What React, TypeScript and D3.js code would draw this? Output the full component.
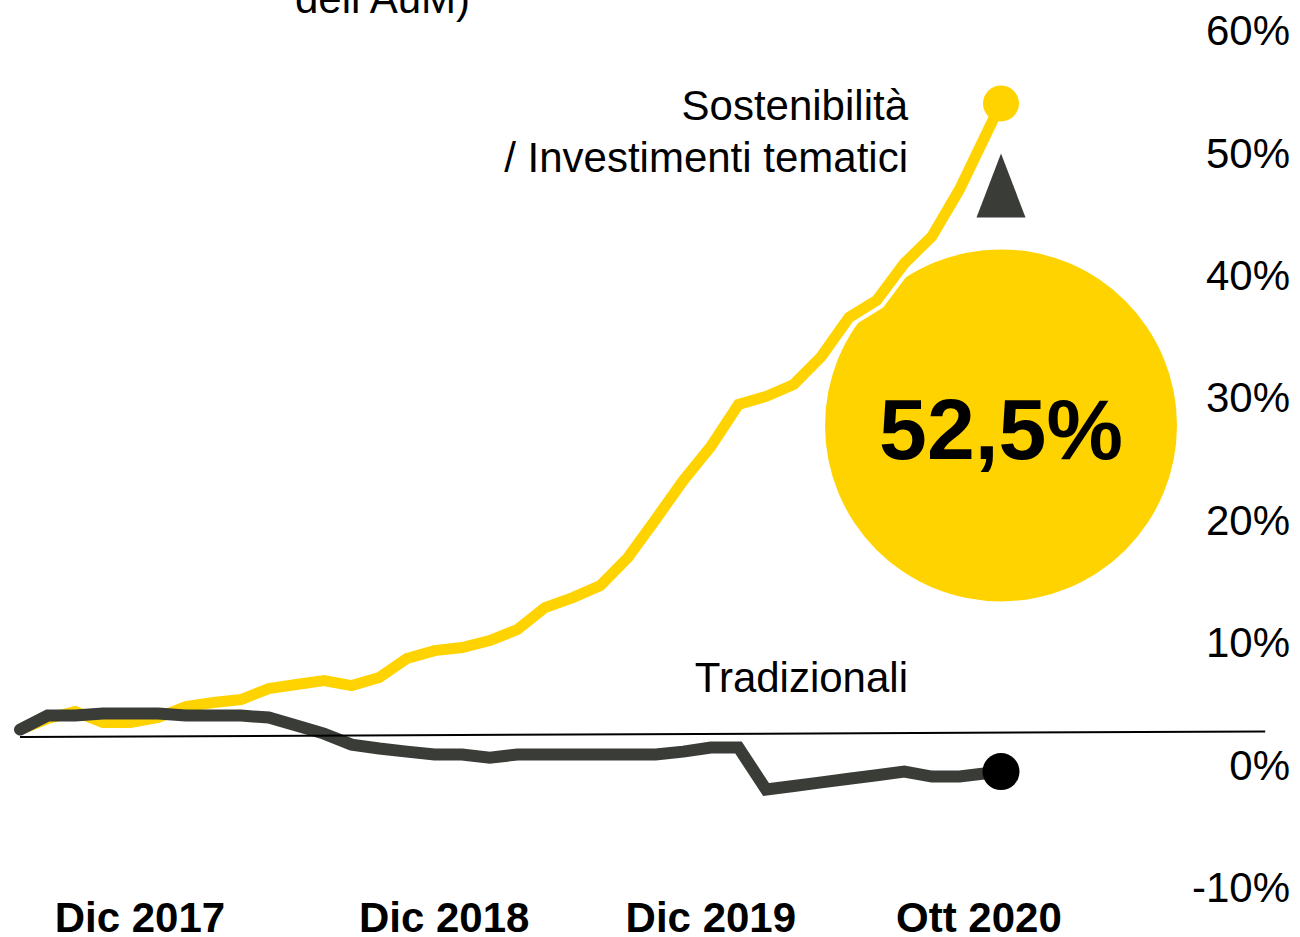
import React from "react";
import * as d3 from "d3";

// Months since start (last point is the partial Oct 2020 observation)
const months = [0,1,2,3,4,5,6,7,8,9,10,11,12,13,14,15,16,17,18,19,20,21,22,23,24,25,26,27,28,29,30,31,32,33,34,35.5];
const sustainable = [2.86,3.76,4.33,3.43,3.43,3.84,4.74,5.07,5.31,6.21,6.54,6.86,6.45,7.11,8.66,9.31,9.56,10.13,11.03,12.83,13.64,14.62,16.91,20.02,23.2,25.98,29.41,30.07,31.05,33.33,36.52,37.91,40.93,43.14,46.98,54.0];
const traditional = [2.86,4.0,4.0,4.17,4.17,4.17,4.0,4.0,4.0,3.84,3.19,2.53,1.63,1.31,1.06,0.82,0.82,0.57,0.82,0.82,0.82,0.82,0.82,0.82,1.06,1.39,1.39,-2.04,-1.75,-1.45,-1.16,-0.87,-0.57,-0.98,-0.98,-0.57];
const yTicks = [60,50,40,30,20,10,0,-10];
const xTickLabels = ["Dic 2017","Dic 2018","Dic 2019","Ott 2020"];
const xTickMonths = [4.34,15.35,25.0,34.7];
const baselinePts: [number, number][] = [[0, 2.25],[45.06, 2.7]];
const highlightValue = "52,5%";
const highlightCenter = 27.7;

const W = 1300, H = 937;
const YELLOW = "#FFD300";
const DARK = "#3A3C38";
const FONT = "'Liberation Sans', Arial, sans-serif";

export default function App() {
  const x = d3.scaleLinear().domain([0, 35.5]).range([20, 1001]);
  const y = d3.scaleLinear().domain([-10, 60]).range([887, 30]);
  const line = d3.line<[number, number]>().x(d => x(d[0])).y(d => y(d[1]));
  const sPts: [number, number][] = months.map((m, i) => [m, sustainable[i]]);
  const tPts: [number, number][] = months.map((m, i) => [m, traditional[i]]);
  const last = months.length - 1;
  const cx = x(months[last]);
  const cy = y(highlightCenter);
  const triTop = y(sustainable[last]) + 50;
  const triBase = triTop + 64;

  return (
    <svg width={W} height={H} style={{ position: "absolute", left: 0, top: 0, background: "#fff" }} fontFamily={FONT}>
      <text x={295} y={13} fontSize={42} fill="#000">dell AuM)</text>

      {/* big highlight circle */}
      <circle cx={cx} cy={cy} r={176} fill={YELLOW} />
      <text x={cx} y={cy + 34} fontSize={86} fontWeight="bold" textAnchor="middle" fill="#000">{highlightValue}</text>
      <path d={`M${cx},${triTop} L${cx + 24.5},${triBase} L${cx - 24.5},${triBase} Z`} fill={DARK} />

      {/* sustainable line with white casing */}
      <path d={line(sPts) || ""} fill="none" stroke="#fff" strokeWidth={19} strokeLinejoin="miter" strokeLinecap="round" />
      <path d={line(sPts) || ""} fill="none" stroke={YELLOW} strokeWidth={11} strokeLinejoin="miter" strokeLinecap="round" />
      <circle cx={x(months[last])} cy={y(sustainable[last])} r={18} fill={YELLOW} />

      {/* traditional line */}
      <path d={line(tPts) || ""} fill="none" stroke={DARK} strokeWidth={12} strokeLinejoin="miter" strokeLinecap="round" />
      <circle cx={x(months[last])} cy={y(traditional[last])} r={18.5} fill="#000" />

      {/* thin reference line */}
      <path d={line(baselinePts) || ""} stroke="#000" strokeWidth={2} fill="none" />

      {/* labels */}
      <text x={908} y={120} fontSize={42} textAnchor="end" fill="#000">Sostenibilità</text>
      <text x={908} y={172} fontSize={42} textAnchor="end" fill="#000">/ Investimenti tematici</text>
      <text x={908} y={692} fontSize={42} textAnchor="end" fill="#000">Tradizionali</text>

      {/* y axis */}
      {yTicks.map(t => (
        <text key={t} x={1290} y={y(t)} dy="0.36em" fontSize={42} textAnchor="end" fill="#000">{`${t}%`}</text>
      ))}

      {/* x axis */}
      {xTickLabels.map((l, i) => (
        <text key={l} x={x(xTickMonths[i])} y={932} fontSize={42} fontWeight="bold" textAnchor="middle" fill="#000">{l}</text>
      ))}
    </svg>
  );
}
